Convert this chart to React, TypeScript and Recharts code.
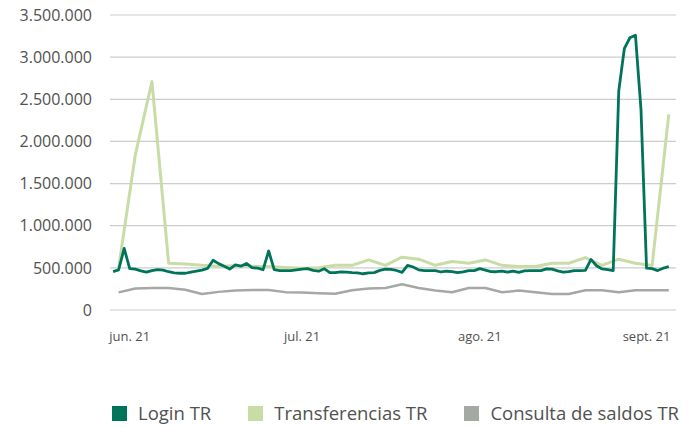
import { CartesianGrid, Line, LineChart, XAxis, YAxis } from "recharts"

// daily login series (index 0..100)
const loginTR = [
  455000, 476000, 730000, 490000, 484000, 465000, 450000, 468000, 480000, 474000,
  454000, 441000, 436000, 436000, 450000, 462000, 474000, 493000, 590000, 550000,
  520000, 486000, 535000, 520000, 552000, 503000, 496000, 478000, 700000, 478000,
  468000, 468000, 468000, 476000, 484000, 490000, 470000, 460000, 490000, 444000,
  444000, 452000, 449000, 444000, 441000, 430000, 440000, 444000, 470000, 484000,
  482000, 469000, 447000, 530000, 510000, 476000, 468000, 468000, 468000, 451000,
  460000, 455000, 444000, 452000, 468000, 468000, 490000, 474000, 456000, 454000,
  462000, 450000, 462000, 446000, 465000, 468000, 468000, 468000, 488000, 484000,
  464000, 449000, 455000, 468000, 468000, 470000, 600000, 525000, 487000, 480000,
  468000, 2600000, 3100000, 3230000, 3260000, 2380000, 496000, 490000, 468000, 496000,
  515000,
]

// these two only have a value every 3rd day, starting at index 1
const transferenciasTR = [
  500000, 1840000, 2710000, 555000, 545000, 530000, 520000, 525000, 520000, 515000,
  505000, 495000, 500000, 530000, 530000, 594000, 530000, 627000, 603000, 530000,
  575000, 555000, 594000, 530000, 515000, 515000, 555000, 555000, 622000, 530000,
  603000, 555000, 527000, 2320000,
]

const consultaSaldosTR = [
  209000, 255000, 262000, 262000, 240000, 190000, 215000, 232000, 236000, 236000,
  212000, 208000, 200000, 192000, 235000, 255000, 260000, 305000, 262000, 232000,
  210000, 262000, 262000, 210000, 232000, 210000, 190000, 190000, 235000, 235000,
  210000, 235000, 235000, 235000,
]

const monthTicks = [3, 34, 66, 96]
const monthLabels = ["jun. 21", "jul. 21", "ago. 21", "sept. 21"]
const yTicks = [0, 500000, 1000000, 1500000, 2000000, 2500000, 3000000, 3500000]

const series = [
  { key: "login", name: "Login TR", color: "#00745a", width: 2.8 },
  { key: "transfer", name: "Transferencias TR", color: "#c9dca6", width: 3 },
  { key: "consulta", name: "Consulta de saldos TR", color: "#a5a9a4", width: 2.5 },
]

const data = loginTR.map((v, i) => {
  const k = (i - 1) / 3
  const sparse = Number.isInteger(k) && k >= 0
  return {
    x: i,
    login: v,
    transfer: sparse ? transferenciasTR[k] ?? null : null,
    consulta: sparse ? consultaSaldosTR[k] ?? null : null,
  }
})

const fmt = (v: number) => String(v).replace(/\B(?=(\d{3})+(?!\d))/g, ".")
const font = "'Open Sans', sans-serif"

export default function App() {
  return (
    <div style={{ position: "absolute", left: 0, top: 0, width: 696, height: 428, background: "#fff", fontFamily: font }}>
      <LineChart width={696} height={370} data={data} margin={{ top: 15, right: 20, bottom: 0, left: 0 }}>
        <CartesianGrid vertical={false} stroke="#cccccc" strokeWidth={1.2} />
        <XAxis
          dataKey="x"
          type="number"
          domain={[-0.55, 101.3]}
          ticks={monthTicks}
          tickFormatter={(v) => monthLabels[monthTicks.indexOf(v)] ?? ""}
          axisLine={false}
          tickLine={false}
          tickMargin={16}
          height={60}
          tick={{ fill: "#4f524f", fontSize: 13, fontFamily: font }}
          allowDataOverflow
        />
        <YAxis
          domain={[0, 3500000]}
          ticks={yTicks}
          tickFormatter={fmt}
          axisLine={false}
          tickLine={false}
          tickMargin={12}
          width={110}
          tick={{ fill: "#4f524f", fontSize: 16, fontFamily: font }}
        />
        {series
          .slice()
          .reverse()
          .map((s) => (
            <Line
              key={s.key}
              dataKey={s.key}
              name={s.name}
              stroke={s.color}
              strokeWidth={s.width}
              dot={false}
              connectNulls
              type="linear"
              strokeLinejoin="round"
              isAnimationActive={false}
            />
          ))}
      </LineChart>

      <div
        style={{
          position: "absolute",
          left: 112,
          top: 401,
          width: 584,
          display: "flex",
          alignItems: "center",
          whiteSpace: "nowrap",
          color: "#4f524f",
          fontSize: 18.5,
          lineHeight: "24px",
        }}
      >
        {series.map((s) => (
          <div key={s.key} style={{ display: "flex", alignItems: "center", marginRight: 37, flexShrink: 0 }}>
            <span style={{ width: 15, height: 15, background: s.color, marginRight: 11, display: "inline-block", flexShrink: 0 }} />
            <span>{s.name}</span>
          </div>
        ))}
      </div>
    </div>
  )
}
